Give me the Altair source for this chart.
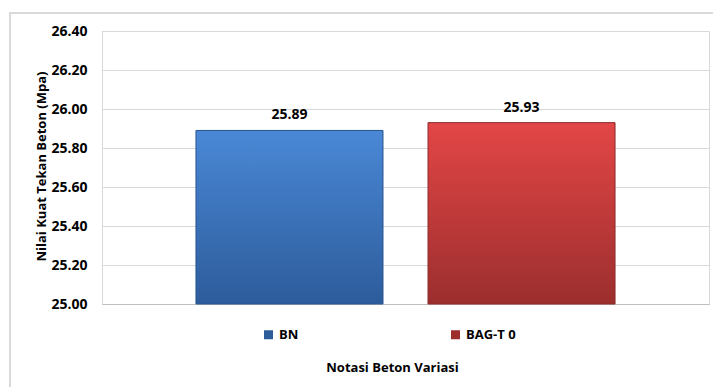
import altair as alt
import pandas as pd

series = ["BN", "BAG-T 0"]
values = [25.89, 25.93]
y_ticks = [25.0, 25.2, 25.4, 25.6, 25.8, 26.0, 26.2, 26.4]

df = pd.DataFrame({"series": series, "value": values})

FONT = "Open Sans"
blue_top, blue_bot = "#4a88d6", "#2d5c9b"
red_top, red_bot = "#e34646", "#9c2e2e"

x_enc = alt.X(
    "series:N",
    sort=series,
    title="Notasi Beton Variasi",
    scale=alt.Scale(paddingInner=0.194, paddingOuter=0.405),
    axis=alt.Axis(labels=False, ticks=False, domain=True, domainColor="#bfbfbf",
                  titleFont=FONT, titleFontSize=13, titleFontWeight="bold",
                  titleColor="#000000", titleX=290, titleY=63, titleBaseline="middle"),
)
y_enc = alt.Y(
    "value:Q",
    title="Nilai Kuat Tekan Beton (Mpa)",
    scale=alt.Scale(domain=[25.0, 26.4], nice=False, zero=False),
    axis=alt.Axis(values=y_ticks, format=".2f", labelFont=FONT, labelFontSize=14,
                  labelFontWeight="bold", labelColor="#000000", labelPadding=15,
                  ticks=False, domain=False, gridColor="#d9d9d9",
                  titleFont=FONT, titleFontSize=13, titleFontWeight="bold",
                  titleColor="#000000", titleX=-61, titleY=135, titleBaseline="middle"),
)

base = alt.Chart(df).mark_bar().encode(
    x=x_enc,
    y=y_enc,
    y2=alt.datum(25.0),
    color=alt.Color(
        "series:N",
        sort=series,
        scale=alt.Scale(domain=series, range=[blue_bot, red_bot]),
        legend=alt.Legend(title=None, orient="none", legendX=160, legendY=297,
                          direction="horizontal", symbolType="square", symbolSize=81,
                          labelFont=FONT, labelFontSize=13, labelFontWeight="bold",
                          labelColor="#000000", columnPadding=150, symbolStrokeWidth=0),
    ),
)


def grad(top, bot):
    return alt.Gradient(
        gradient="linear",
        stops=[alt.GradientStop(color=top, offset=0), alt.GradientStop(color=bot, offset=1)],
        x1=0, x2=0, y1=0, y2=1,
    )


blue = alt.Chart(df).transform_filter(alt.datum.series == "BN").mark_bar(
    fill=grad(blue_top, blue_bot), stroke="#2a5590", strokeWidth=1
).encode(x=x_enc, y=y_enc, y2=alt.datum(25.0))

red = alt.Chart(df).transform_filter(alt.datum.series == "BAG-T 0").mark_bar(
    fill=grad(red_top, red_bot), stroke="#8e2a2a", strokeWidth=1
).encode(x=x_enc, y=y_enc, y2=alt.datum(25.0))

labels = alt.Chart(df).mark_text(
    font=FONT, fontSize=14, fontWeight="bold", color="#000000", baseline="bottom", dy=-8
).encode(x=x_enc, y=y_enc, text=alt.Text("value:Q", format=".2f"))

frame = alt.Chart(df).mark_rect(
    fill=None, stroke="#d9d9d9", strokeWidth=2
).encode(x=alt.value(-92), x2=alt.value(640), y=alt.value(-18), y2=alt.value(400))

chart = alt.layer(frame, base, blue, red, labels).properties(
    width=607,
    height=273,
    autosize=alt.AutoSizeParams(type="none"),
    padding={"left": 102, "top": 31, "right": 4, "bottom": 83},
    background="#ffffff",
).configure_view(stroke="#d9d9d9", strokeWidth=1)

chart.save("out.html", embed_options={"renderer": "svg", "actions": False})
